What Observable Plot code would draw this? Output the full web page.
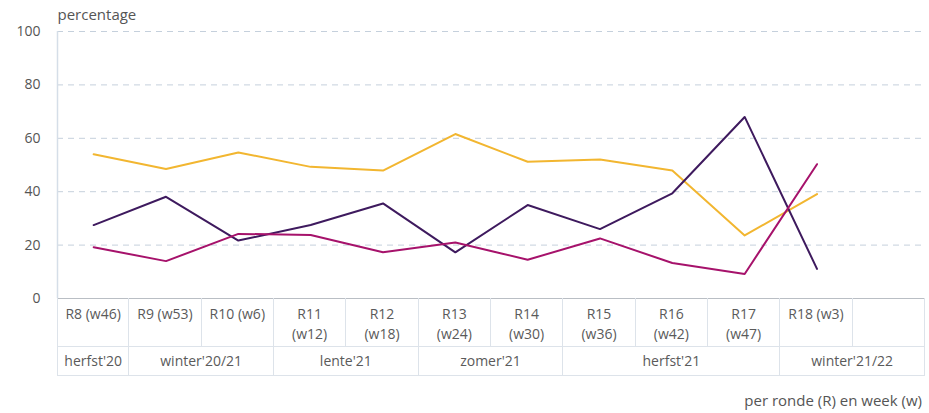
<!DOCTYPE html>
<html><head><meta charset="utf-8">
<script src="https://cdn.jsdelivr.net/npm/d3@7"></script>
<script src="https://cdn.jsdelivr.net/npm/@observablehq/plot@0.6"></script>
<style>
body{margin:0;background:#fff;font-family:"Open Sans",sans-serif;color:#555}
#wrap{position:relative;width:929px;height:413px;overflow:hidden}
#wrap svg{position:absolute;left:0;top:0}
.cell{position:absolute;box-sizing:border-box;text-align:center;font-size:14px;color:#5a5a5a;border-right:1px solid #dde3ea;border-bottom:1px solid #dde3ea;white-space:pre;line-height:20px}
.caption{position:absolute;right:7px;top:390px;font-size:15px;color:#555}
</style></head><body><div id="wrap"></div><script>
// categories (12 columns; the last one is empty)
const rondes = ["R8 (w46)", "R9 (w53)", "R10 (w6)", "R11\n(w12)", "R12\n(w18)", "R13\n(w24)", "R14\n(w30)", "R15\n(w36)", "R16\n(w42)", "R17\n(w47)", "R18 (w3)", ""];
const seizoenLabels = ["herfst'20", "winter'20/21", "lente'21", "zomer'21", "herfst'21", "winter'21/22"];
const seizoenSpans = [1, 2, 2, 2, 3, 2];
// series values (percentage) for R8..R18
const geel = [54, 48.5, 54.7, 49.3, 47.9, 61.6, 51.2, 52.1, 47.9, 23.6, 39.1];
const paars = [27.5, 38.1, 21.7, 27.5, 35.6, 17.3, 35.0, 26.0, 39.4, 68.0, 11.1];
const magenta = [19.2, 14.0, 24.2, 23.8, 17.3, 21.0, 14.5, 22.5, 13.3, 9.2, 50.3];
const yTicks = [0, 20, 40, 60, 80, 100];

const series = [
  {name: "geel", values: geel, color: "#f2b630"},
  {name: "paars", values: paars, color: "#3e1a5e"},
  {name: "magenta", values: magenta, color: "#a6126b"}
];
const rows = series.flatMap(s => s.values.map((v, i) => ({serie: s.name, i, ronde: rondes[i], v})));

const chart = Plot.plot({
  width: 929, height: 312,
  marginTop: 31, marginBottom: 14, marginLeft: 57, marginRight: 4,
  style: {fontFamily: "'Open Sans', sans-serif", fontSize: "14px", color: "#555", background: "#fff"},
  x: {domain: [-0.5, rondes.length - 0.5], axis: null},
  y: {domain: [0, 100], axis: null},
  color: {domain: series.map(s => s.name), range: series.map(s => s.color)},
  marks: [
    Plot.ruleY(yTicks.filter(t => t > 0), {stroke: "#c5d0dc", strokeDasharray: "6,5", strokeWidth: 1}),
    Plot.ruleX([-0.5], {stroke: "#d5dee8", strokeWidth: 1.5}),
    Plot.ruleY([0], {stroke: "#b9bec4", strokeWidth: 1}),
    Plot.axisY({ticks: yTicks, tickSize: 0, tickPadding: 17, fontSize: 14, fill: "#555", label: null}),
    Plot.line(rows, {x: "i", y: "v", z: "serie", stroke: "serie", strokeWidth: 2, curve: "linear"}),
    Plot.text(["percentage"], {frameAnchor: "top-left", textAnchor: "start", lineAnchor: "middle", dy: -16, fontSize: 15, fill: "#555"})
  ]
});
const wrap = document.getElementById("wrap");
wrap.appendChild(chart);

const x = chart.scale("x");
const xl = i => x.apply(i - 0.5);
const row1Top = 298, row1H = 49, row2H = 29;
rondes.forEach((r, i) => {
  const d = document.createElement("div");
  d.className = "cell";
  d.textContent = r;
  const l = xl(i), w = xl(i + 1) - l;
  Object.assign(d.style, {left: l + "px", top: row1Top + "px", width: w + "px", height: row1H + "px", paddingTop: "6px"});
  if (i === 0) d.style.borderLeft = "1px solid #dde3ea";
  wrap.appendChild(d);
});
let start = 0;
seizoenLabels.forEach((s, k) => {
  const d = document.createElement("div");
  d.className = "cell";
  d.textContent = s;
  const l = xl(start), w = xl(start + seizoenSpans[k]) - l;
  Object.assign(d.style, {left: l + "px", top: (row1Top + row1H) + "px", width: w + "px", height: row2H + "px", lineHeight: (row2H - 1) + "px"});
  if (k === 0) d.style.borderLeft = "1px solid #dde3ea";
  wrap.appendChild(d);
  start += seizoenSpans[k];
});
const cap = document.createElement("div");
cap.className = "caption";
cap.textContent = "per ronde (R) en week (w)";
wrap.appendChild(cap);
</script></body></html>
